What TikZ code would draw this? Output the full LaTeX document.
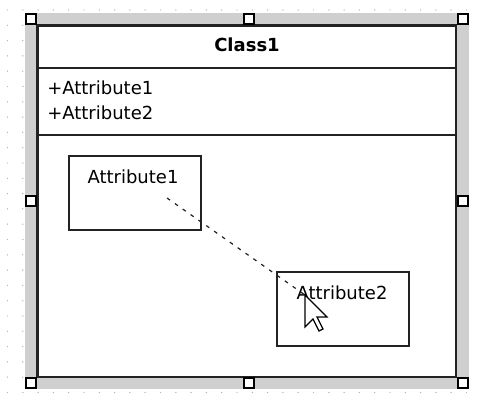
\documentclass[tikz,border=0pt]{standalone}
\usepackage{fontspec}
\setmainfont{DejaVu Sans}
\usetikzlibrary{positioning}
\definecolor{griddot}{HTML}{B4B4B4}
\definecolor{bandgray}{HTML}{CFCFCF}
\definecolor{edge}{HTML}{222222}

\begin{document}
\begin{tikzpicture}[x=0.75pt, y=-0.75pt,
  cls/.style={rectangle, draw=edge, line width=1.6pt, fill=white, minimum width=313.9pt, minimum height=263.6pt, inner sep=0pt},
  box/.style={rectangle, draw=edge, line width=1.1pt, minimum width=99pt, minimum height=55.5pt, inner sep=0pt},
  grip/.style={rectangle, draw=black, line width=1.6pt, fill=white, minimum size=7.5pt, inner sep=0pt},
  lbl/.style={inner sep=0pt, font=\fontsize{13.5}{16}\selectfont},
  drag/.style={edge, line width=0.9pt, dash pattern=on 2.8pt off 4.4pt}
]
  \useasboundingbox (0,0) rectangle (480,399);
  % Grid
  \foreach \i in {0,...,30}{\foreach \j in {0,...,25}{\fill[griddot] (7.5+\i*15.3, 10+\j*15.3) circle (0.55pt);}}
  % Selection band
  \fill[bandgray] (25,13) rectangle (469,389);
  % Class
  \node[cls] (class1) at (246.75,201.25) {};
  \draw[edge, line width=1.6pt] (37.5,68) -- (456,68);
  \draw[edge, line width=1.6pt] (37.5,135) -- (456,135);
  \node[lbl, font=\fontsize{13.5}{16}\selectfont\bfseries] (title) at (247,45) {Class1};
  \node[lbl, anchor=west] (attr1) at (47,88) {+Attribute1};
  \node[lbl, anchor=west] (attr2) at (47,113) {+Attribute2};
  % Grips
  \foreach \x/\y [count=\k] in {31/19, 249/19, 463/19, 31/201, 463/201, 31/383, 249/383, 463/383}{\node[grip] (grip\k) at (\x,\y) {};}
  % Shapes
  \node[box] (shape1) at (135,193) {};
  \node[lbl] (shape1txt) at (133,177) {Attribute1};
  \node[box] (shape2) at (343,309) {};
  \node[lbl] (shape2txt) at (342,293) {Attribute2};
  % Drag
  \coordinate (dragstart) at (167,198);
  \coordinate (tip) at (305,295);
  \draw[drag] (dragstart) -- (tip);
  \draw[black, line width=0.9pt, fill=white, line join=miter] (tip) -- ++(0,32) -- ++(8,-8) -- ++(6,12) -- ++(4,-2) -- ++(-6,-12) -- ++(10,0) -- cycle;
\end{tikzpicture}
\end{document}
